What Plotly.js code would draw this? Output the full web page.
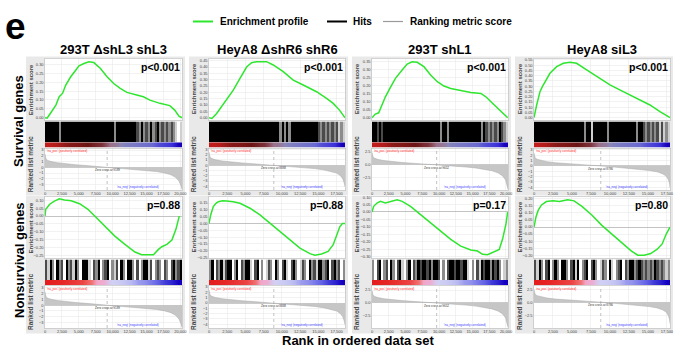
<!DOCTYPE html>
<html><head><meta charset="utf-8">
<script src="https://cdn.plot.ly/plotly-3.0.1.min.js"></script>
<style>html,body{margin:0;padding:0;background:#fff}#chart{width:677px;height:348px}</style>
</head><body><div id="chart"></div>
<script>
// ---------------- DATA ----------------
const columnTitles = ['293T \u0394shL3 shL3', 'HeyA8 \u0394shR6 shR6', '293T shL1', 'HeyA8 siL3'];
const rowTitles = ['Survival genes', 'Nonsurvival genes'];
const pValues = [['p<0.001', 'p<0.001', 'p<0.001', 'p<0.001'], ['p=0.88', 'p=0.88', 'p=0.17', 'p=0.80']];
const geneCounts = [20250, 18650, 20300, 17900];
const zeroCross = [9189, 8888, 9652, 8786];
const legendLabels = ['Enrichment profile', 'Hits', 'Ranking metric score'];
const xTitle = 'Rank in ordered data set';
const panelLetter = 'e';

// Enrichment score curves (rank, score)
const esRank_S1 = [0, 300, 634, 1120, 1610, 2100, 2590, 3070, 3800, 4540, 5020, 5760, 6490, 7220, 8200, 9170, 10150, 11120, 12100, 13560, 14540, 15510, 16240, 16980, 18440, 19170, 19800, 20250];
const esScore_S1 = [0, -0.003, 0.015, 0.043, 0.071, 0.118, 0.137, 0.184, 0.231, 0.268, 0.293, 0.306, 0.315, 0.311, 0.278, 0.231, 0.193, 0.165, 0.143, 0.128, 0.118, 0.099, 0.09, 0.081, 0.068, 0.043, 0.008, 0];
const esRank_S2 = [0, 400, 1050, 1740, 2420, 3330, 4250, 5160, 5840, 6530, 7900, 8810, 10180, 11550, 12920, 14750, 16120, 17030, 17900, 18650];
const esScore_S2 = [0, -0.006, 0.034, 0.087, 0.139, 0.218, 0.31, 0.40, 0.434, 0.442, 0.442, 0.416, 0.363, 0.297, 0.258, 0.205, 0.153, 0.113, 0.06, 0];
const esRank_S3 = [0, 500, 1000, 1500, 2000, 2750, 3500, 4500, 5250, 6000, 6750, 7750, 8750, 9750, 10750, 11750, 13250, 14750, 16250, 17000, 17750, 18500, 19250, 20250];
const esScore_S3 = [0, 0.023, 0.031, 0.079, 0.131, 0.19, 0.246, 0.298, 0.335, 0.35, 0.346, 0.319, 0.267, 0.225, 0.198, 0.183, 0.169, 0.158, 0.152, 0.131, 0.1, 0.069, 0.038, 0];
const esRank_S4 = [0, 175, 350, 570, 790, 1100, 1450, 2100, 2980, 3860, 4740, 5610, 6930, 8250, 10000, 11750, 13500, 15260, 16580, 17900];
const esScore_S4 = [0, 0.073, 0.121, 0.184, 0.248, 0.296, 0.343, 0.423, 0.486, 0.518, 0.528, 0.518, 0.455, 0.391, 0.312, 0.248, 0.184, 0.121, 0.057, 0];
const esRank_N1 = [0, 100, 300, 650, 1390, 2130, 2880, 3870, 5110, 6350, 7350, 8830, 10320, 11810, 13300, 14290, 15290, 16030, 16770, 17270, 18010, 18760, 19350, 19650, 19850];
const esScore_N1 = [0, 0.043, 0.053, 0.074, 0.096, 0.11, 0.102, 0.098, 0.079, 0.043, 0, -0.064, -0.128, -0.181, -0.23, -0.247, -0.249, -0.247, -0.213, -0.196, -0.181, -0.153, -0.085, -0.032, 0];
const esRank_N2 = [0, 230, 590, 960, 1280, 1870, 2420, 3330, 4250, 5620, 6990, 8360, 9730, 11100, 12470, 13840, 14520, 15430, 16340, 17030, 17580, 17950, 18300, 18650];
const esScore_N2 = [0, 0.063, 0.124, 0.148, 0.16, 0.167, 0.165, 0.16, 0.148, 0.112, 0.063, 0.002, -0.058, -0.119, -0.18, -0.221, -0.233, -0.223, -0.204, -0.155, -0.083, -0.022, 0, 0];
const esRank_N3 = [0, 250, 750, 1250, 2000, 2750, 3750, 4500, 5750, 7250, 8750, 10250, 11750, 13250, 14250, 14750, 15750, 16500, 17250, 18250, 19000, 19500, 20000, 20250];
const esScore_N3 = [0, 0.038, 0.06, 0.071, 0.06, 0.071, 0.082, 0.071, 0.038, -0.018, -0.073, -0.129, -0.184, -0.229, -0.25, -0.255, -0.262, -0.284, -0.287, -0.265, -0.251, -0.18, -0.08, 0];
const esRank_N4 = [0, 130, 260, 560, 990, 1630, 2490, 3350, 4420, 5280, 6350, 7640, 8930, 10210, 11500, 12790, 13650, 14510, 15360, 16220, 16870, 17420, 17900];
const esScore_N4 = [0, 0.036, 0.072, 0.12, 0.157, 0.181, 0.186, 0.181, 0.193, 0.186, 0.145, 0.084, 0.012, -0.048, -0.108, -0.169, -0.2, -0.2, -0.188, -0.157, -0.12, -0.048, 0];

// Hit density per bin (60 bins along the ranked list; 0 = none, 4 = solid)
const hits_S1 = [4,4,4,4,4,4,2,4,4,4, 4,4,4,4,4,4,4,4,4,4, 4,4,4,4,4,4,4,4,4,4, 2,4,4,4,4,4,4,4,4,4, 3,2,4,2,3,2,4,2,3,4, 2,3,2,3,2,3,2,1,0,1];
const hits_S2 = [4,4,4,4,4,4,4,4,4,4, 4,4,4,4,4,4,4,4,4,4, 4,4,4,4,4,4,4,4,4,4, 4,2,4,2,4,2,4,4,4,4, 4,4,4,4,4,4,4,4,3,2, 3,2,3,2,3,2,3,1,2,1];
const hits_S3 = [4,4,3,4,3,4,4,4,4,4, 4,4,4,4,4,4,4,4,4,4, 4,4,4,4,4,4,4,4,4,4, 2,4,4,2,4,4,4,4,4,4, 4,4,4,4,4,4,4,4,2,4, 3,2,3,2,3,2,4,3,2,1];
const hits_S4 = [4,4,4,4,4,4,4,4,4,4, 4,4,4,4,4,4,4,4,4,4, 4,4,2,4,4,1,4,4,4,4, 4,4,2,4,4,4,4,4,4,4, 4,4,4,4,4,2,4,4,3,2, 3,2,3,2,3,1,3,1,2,1];
const hits_N1 = [3,1,4,2,0,4,2,3,0,4, 2,3,1,4,2,0,4,4,4,1, 0,3,2,4,0,2,3,4,0,2, 1,3,0,4,2,0,4,4,2,0, 3,0,2,4,4,1,3,0,2,3, 2,0,3,2,0,3,4,2,3,4];
const hits_N2 = [2,4,0,3,2,4,1,3,4,4, 0,2,4,0,3,2,4,4,1,0, 3,4,0,2,0,1,3,2,0,4, 2,0,3,4,1,0,3,4,2,0, 1,3,2,0,4,2,3,1,4,4, 2,3,4,0,3,4,2,3,0,2];
const hits_N3 = [2,0,3,4,0,2,3,0,4,2, 0,3,4,1,0,2,4,0,3,2, 4,3,4,4,3,4,2,4,4,3, 0,2,0,3,4,4,3,4,4,3, 4,4,1,0,2,0,3,1,4,3, 4,4,2,4,3,4,2,0,1,2];
const hits_N4 = [3,1,4,2,0,3,4,0,2,4, 2,0,4,4,2,0,3,4,1,4, 0,2,3,4,0,3,4,2,0,1, 3,2,0,4,1,0,2,3,4,0, 3,2,4,4,2,3,4,3,2,3, 2,3,2,4,3,2,3,2,1,2];

// Correlation colour band (20 bins, +1 = positively correlated, -1 = negatively)
const band_S = [1, 0.95, 0.85, 0.75, 0.7, 0.6, 0.45, 0.25, 0.12, -0.05, -0.12, -0.3, -0.35, -0.4, -0.45, -0.5, -0.65, -0.72, -0.8, -1];
const band_N = [1, 0.95, 0.9, 0.8, 0.7, 0.6, 0.35, 0.15, 0.12, -0.05, -0.08, -0.12, -0.2, -0.35, -0.4, -0.5, -0.6, -0.75, -0.85, -1];

// Ranked list metric (rank, metric) per data set
const metricRank_1 = [0, 40, 150, 400, 900, 1800, 3000, 4500, 6500, 8000, 9189, 10500, 12000, 13500, 15000, 16500, 17700, 18600, 19300, 19800, 20100, 20250];
const metricValue_1 = [2.3, 1.8, 1.45, 1.2, 1.0, 0.8, 0.62, 0.45, 0.26, 0.12, 0, -0.12, -0.26, -0.4, -0.56, -0.75, -1.0, -1.3, -1.75, -2.4, -3.2, -3.85];
const metricRank_2 = [0, 40, 150, 400, 900, 1800, 3000, 4500, 6500, 7800, 8888, 10000, 11500, 13000, 14500, 15700, 16700, 17500, 18000, 18350, 18550, 18650];
const metricValue_2 = [2.5, 1.9, 1.5, 1.25, 1.02, 0.8, 0.6, 0.43, 0.22, 0.1, 0, -0.12, -0.28, -0.45, -0.65, -0.88, -1.15, -1.5, -1.95, -2.6, -3.4, -4.1];
const metricRank_3 = [0, 40, 150, 400, 900, 1800, 3000, 4500, 6500, 8300, 9652, 11000, 12500, 14000, 15500, 16800, 17900, 18800, 19500, 19950, 20200, 20300];
const metricValue_3 = [2.4, 1.9, 1.5, 1.25, 1.02, 0.8, 0.6, 0.43, 0.24, 0.1, 0, -0.12, -0.28, -0.45, -0.65, -0.9, -1.2, -1.6, -2.2, -3.0, -4.0, -4.85];
const metricRank_4 = [0, 40, 150, 400, 900, 1700, 2800, 4200, 6000, 7500, 8786, 9900, 11200, 12600, 14000, 15200, 16200, 16900, 17400, 17700, 17850, 17900];
const metricValue_4 = [2.4, 1.85, 1.5, 1.25, 1.02, 0.8, 0.6, 0.43, 0.24, 0.1, 0, -0.12, -0.27, -0.44, -0.62, -0.85, -1.1, -1.45, -1.9, -2.6, -3.4, -4.1];

// ---------------- BUILD ----------------
const W = 677, H = 348;
const FONT = 'Liberation Sans, Arial, sans-serif';
const GRID = '#e6e6e6', BORDER = '#bdbdbd';
const fx = v => v / W, fy = v => 1 - v / H;
const colBox = [[45, 182], [209, 345], [372, 508], [534, 670]];
const frameBox = [[26, 185], [189, 348], [352, 511], [515, 673]];
const rowBox = [
  {frame: [56.5, 195], es: [58.5, 120], hits: [121.5, 142.3], band: [142.3, 147.8], rank: [148.3, 190]},
  {frame: [195.5, 333.5], es: [196.5, 258.3], hits: [259.5, 280], band: [280, 285.5], rank: [286, 328]}
];
const metrics = [[metricRank_1, metricValue_1], [metricRank_2, metricValue_2], [metricRank_3, metricValue_3], [metricRank_4, metricValue_4]];
const bandScales = [
  [[0, '#1800b8'], [0.1, '#3a30d8'], [0.25, '#6a6ad0'], [0.38, '#8a88b8'], [0.48, '#9a7088'], [0.58, '#7a3038'], [0.75, '#6a1414'], [0.9, '#8c1818'], [1, '#c01c1c']],
  [[0, '#1400c0'], [0.08, '#3028d0'], [0.2, '#6060e4'], [0.35, '#a8a8f0'], [0.47, '#d0d0f4'], [0.57, '#f0a8cc'], [0.65, '#f07070'], [0.8, '#ec4444'], [1, '#e41e1e']]
];
const hitScale = [[0, '#ffffff'], [0.25, '#cfcfcf'], [0.5, '#8c8c8c'], [0.75, '#4a4a4a'], [1, '#000000']];

const panels = [
  {row: 0, col: 0, r: esRank_S1, s: esScore_S1, hits: hits_S1, band: band_S, esRange: [-0.013, 0.334], rankRange: [-3.95, 3.3], rdt: 1, rfmt: 'd'},
  {row: 0, col: 1, r: esRank_S2, s: esScore_S2, hits: hits_S2, band: band_S, esRange: [-0.018, 0.467], rankRange: [-4.7, 3.2], rdt: 1, rfmt: 'd'},
  {row: 0, col: 2, r: esRank_S3, s: esScore_S3, hits: hits_S3, band: band_S, esRange: [-0.014, 0.37], rankRange: [-4.95, 3.2], rdt: 2.5, rfmt: '.1f'},
  {row: 0, col: 3, r: esRank_S4, s: esScore_S4, hits: hits_S4, band: band_S, esRange: [-0.022, 0.564], rankRange: [-4.5, 3.3], rdt: 1, rfmt: 'd'},
  {row: 1, col: 0, r: esRank_N1, s: esScore_N1, hits: hits_N1, band: band_N, esRange: [-0.27, 0.125], rankRange: [-3.95, 3.3], rdt: 1, rfmt: 'd'},
  {row: 1, col: 1, r: esRank_N2, s: esScore_N2, hits: hits_N2, band: band_N, esRange: [-0.255, 0.198], rankRange: [-4.7, 3.2], rdt: 1, rfmt: 'd'},
  {row: 1, col: 2, r: esRank_N3, s: esScore_N3, hits: hits_N3, band: band_N, esRange: [-0.311, 0.104], rankRange: [-4.95, 3.3], rdt: 2.5, rfmt: '.1f'},
  {row: 1, col: 3, r: esRank_N4, s: esScore_N4, hits: hits_N4, band: band_N, esRange: [-0.222, 0.217], rankRange: [-4.95, 3.1], rdt: 2.5, rfmt: '.1f'}
];

const ref = (k, a) => a + (k === 1 ? '' : k);
const axKey = (k, a) => a + 'axis' + (k === 1 ? '' : k);
const base = {showgrid: false, zeroline: false, showticklabels: false, ticks: '', fixedrange: true, showline: false};
const tickFont = {size: 4, color: '#444', family: FONT};

const traces = [], shapes = [], annotations = [];
const layout = {
  width: W, height: H, margin: {l: 0, r: 0, t: 0, b: 0},
  paper_bgcolor: '#ffffff', plot_bgcolor: 'rgba(0,0,0,0)', showlegend: false,
  font: {family: FONT}
};
function note(px, py, text, size, opts) {
  annotations.push(Object.assign({xref: 'paper', yref: 'paper', x: fx(px), y: fy(py), xanchor: 'center', yanchor: 'middle', text: text, showarrow: false, borderpad: 0, font: {size: size, color: '#000', family: FONT}}, opts || {}));
}

// frames and white areas
panels.forEach(p => {
  const fb = frameBox[p.col], rb = rowBox[p.row], cb = colBox[p.col];
  shapes.push({type: 'rect', xref: 'paper', yref: 'paper', layer: 'below', x0: fx(fb[0]), x1: fx(fb[1]), y0: fy(rb.frame[1]), y1: fy(rb.frame[0]), fillcolor: '#e9e9e9', line: {width: 0}});
  ['es', 'hits', 'rank'].forEach(key => {
    const yy = key === 'hits' ? [rb.hits[0], rb.band[1]] : rb[key];
    shapes.push({type: 'rect', xref: 'paper', yref: 'paper', layer: 'below', x0: fx(cb[0]), x1: fx(cb[1]), y0: fy(yy[1]), y1: fy(yy[0]), fillcolor: '#ffffff', line: {width: 0}});
  });
});

panels.forEach((p, i) => {
  const N = geneCounts[p.col], cb = colBox[p.col], rb = rowBox[p.row];
  const kE = i * 4 + 1, kH = i * 4 + 2, kB = i * 4 + 3, kR = i * 4 + 4;
  const xd = [fx(cb[0]), fx(cb[1])];
  const yd = r => [fy(r[1]), fy(r[0])];
  const boxed = {showline: true, mirror: true, linecolor: BORDER, linewidth: 0.6};

  // ES
  layout[axKey(kE, 'x')] = Object.assign({}, base, boxed, {domain: xd, range: [0, N], anchor: ref(kE, 'y'), showgrid: true, gridcolor: GRID, gridwidth: 0.5, dtick: 2500, tick0: 0});
  layout[axKey(kE, 'y')] = Object.assign({}, base, boxed, {domain: yd(rb.es), range: p.esRange, anchor: ref(kE, 'x'), showticklabels: true, tickfont: tickFont, dtick: 0.05, tick0: 0, tickformat: '.2f', showgrid: true, gridcolor: GRID, gridwidth: 0.5, zeroline: p.row === 1, zerolinecolor: '#b4b4b4', zerolinewidth: 0.8});
  traces.push({type: 'scatter', mode: 'lines', x: p.r, y: p.s, xaxis: ref(kE, 'x'), yaxis: ref(kE, 'y'), line: {color: '#2ee62e', width: 1.5}, hoverinfo: 'skip'});

  // hits
  layout[axKey(kH, 'x')] = Object.assign({}, base, {domain: xd, range: [0, N], anchor: ref(kH, 'y')});
  layout[axKey(kH, 'y')] = Object.assign({}, base, {domain: yd(rb.hits), range: [0, 1], anchor: ref(kH, 'x')});
  traces.push({type: 'heatmap', z: [p.hits], x0: N / p.hits.length / 2, dx: N / p.hits.length, y0: 0.5, dy: 1, zmin: 0, zmax: 4, colorscale: hitScale, showscale: false, xaxis: ref(kH, 'x'), yaxis: ref(kH, 'y'), hoverinfo: 'skip'});

  // colour band
  layout[axKey(kB, 'x')] = Object.assign({}, base, {domain: xd, range: [0, N], anchor: ref(kB, 'y')});
  layout[axKey(kB, 'y')] = Object.assign({}, base, {domain: yd(rb.band), range: [0, 1], anchor: ref(kB, 'x')});
  traces.push({type: 'heatmap', z: [p.band], x0: N / p.band.length / 2, dx: N / p.band.length, y0: 0.5, dy: 1, zmin: -1, zmax: 1, colorscale: bandScales[p.row], showscale: false, zsmooth: 'best', xaxis: ref(kB, 'x'), yaxis: ref(kB, 'y'), hoverinfo: 'skip'});

  // ranked list metric
  layout[axKey(kR, 'x')] = Object.assign({}, base, boxed, {domain: xd, range: [0, N], anchor: ref(kR, 'y'), showticklabels: true, tickfont: tickFont, dtick: 2500, tick0: 0, tickformat: ',d', showgrid: true, gridcolor: GRID, gridwidth: 0.5});
  layout[axKey(kR, 'y')] = Object.assign({}, base, boxed, {domain: yd(rb.rank), range: p.rankRange, anchor: ref(kR, 'x'), showticklabels: true, tickfont: tickFont, dtick: p.rdt, tick0: 0, tickformat: p.rfmt, showgrid: true, gridcolor: GRID, gridwidth: 0.5, zeroline: true, zerolinecolor: '#a8a8a8', zerolinewidth: 0.6});
  const m = metrics[p.col];
  traces.push({type: 'scatter', mode: 'lines', x: m[0], y: m[1], fill: 'tozeroy', fillcolor: '#c6c6c6', line: {color: '#a8a8a8', width: 0.5}, xaxis: ref(kR, 'x'), yaxis: ref(kR, 'y'), hoverinfo: 'skip'});
  shapes.push({type: 'line', xref: ref(kR, 'x'), yref: ref(kR, 'y') + ' domain', x0: zeroCross[p.col], x1: zeroCross[p.col], y0: 0, y1: 1, line: {color: '#9a9a9a', width: 0.6, dash: 'dot'}});

  // tiny texts in the ranked panel
  annotations.push({xref: ref(kR, 'x'), yref: ref(kR, 'y') + ' domain', x: N * 0.005, y: 1, xanchor: 'left', yanchor: 'top', text: "'na_pos' (positively correlated)", showarrow: false, font: {size: 3, color: '#ff2a2a', family: FONT}, borderpad: 0});
  annotations.push({xref: ref(kR, 'x'), yref: ref(kR, 'y'), x: zeroCross[p.col], y: 0, xanchor: 'center', yanchor: 'top', text: 'Zero cross at ' + zeroCross[p.col], showarrow: false, font: {size: 3, color: '#333', family: FONT}, borderpad: 0});
  annotations.push({xref: ref(kR, 'x'), yref: ref(kR, 'y') + ' domain', x: N * 0.52, y: 0, xanchor: 'left', yanchor: 'bottom', text: "'na_neg' (negatively correlated)", showarrow: false, font: {size: 3, color: '#3a3aff', family: FONT}, borderpad: 0});

  // axis titles
  const off = frameBox[p.col][0] - 26;
  note(31 + off, (rb.es[0] + rb.es[1]) / 2, '<b>Enrichment score</b>', 6, {textangle: -90, font: {size: 6, color: '#444', family: FONT}});
  note(30 + off, rb.rank[0] + 16, '<b>Ranked list metric</b>', 6.5, {textangle: -90, font: {size: 6.5, color: '#444', family: FONT}});

  // p-value
  note(cb[1] - 1, rb.es[0] + 8, '<b>' + pValues[p.row][p.col] + '</b>', 10.5, {xanchor: 'right'});
});

// column titles
columnTitles.forEach((t, c) => note((colBox[c][0] + colBox[c][1]) / 2, 49.5, '<b>' + t + '</b>', 13));
// row titles
note(19, 121, '<b>' + rowTitles[0] + '</b>', 13, {textangle: -90});
note(19, 260, '<b>' + rowTitles[1] + '</b>', 13, {textangle: -90});
// bottom title
note(358, 340, '<b>' + xTitle + '</b>', 13);
// panel letter
note(4, 27, '<b>' + panelLetter + '</b>', 37, {xanchor: 'left'});
// legend
const legendItems = [
  {x0: 193, x1: 213, color: '#2ee62e', width: 2, tx: 219},
  {x0: 327, x1: 347, color: '#000000', width: 2, tx: 352},
  {x0: 383, x1: 403, color: '#9a9a9a', width: 1.2, tx: 409}
];
legendItems.forEach((it, j) => {
  shapes.push({type: 'line', xref: 'paper', yref: 'paper', x0: fx(it.x0), x1: fx(it.x1), y0: fy(21.5), y1: fy(21.5), line: {color: it.color, width: it.width}});
  note(it.tx, 21.5, '<b>' + legendLabels[j] + '</b>', 10, {xanchor: 'left'});
});

layout.shapes = shapes;
layout.annotations = annotations;
Plotly.newPlot('chart', traces, layout, {staticPlot: true, displayModeBar: false});
</script>
</body></html>
